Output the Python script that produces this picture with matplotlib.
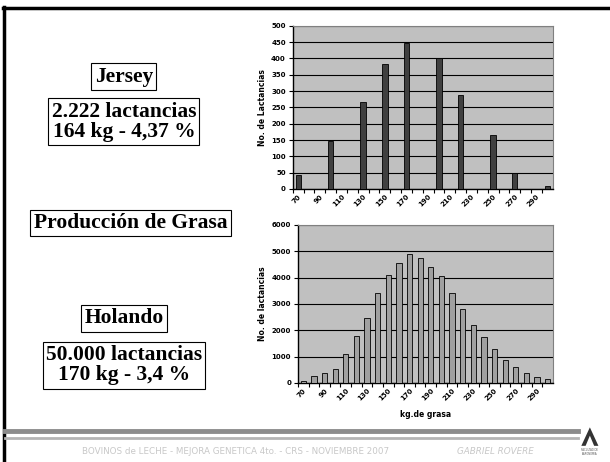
import numpy as np
import matplotlib.pyplot as plt
from matplotlib.patches import Polygon

# categories of kg de grasa (every 10 kg), labels shown every other one
kg = list(range(70, 310, 10))
kg_labels = [str(k) if i % 2 == 0 else "" for i, k in enumerate(kg)]

jersey = [43, 0, 0, 147, 0, 0, 266, 0, 383, 0, 448, 0,
          0, 403, 0, 287, 0, 0, 164, 0, 50, 0, 0, 10]
holando = [75, 265, 380, 530, 1090, 1785, 2470, 3405, 4100, 4560, 4900, 4760,
           4405, 4075, 3405, 2810, 2190, 1735, 1305, 860, 595, 390, 240, 165]

fig = plt.figure(figsize=(6.1, 4.62), dpi=100)


def bar_chart(ax, vals, color, ymax, step, ylabel):
    x = np.arange(len(kg))
    ax.set_facecolor("#c0c0c0")
    ax.bar(x + 0.5, vals, width=0.5, color=color, edgecolor="black", linewidth=0.6, zorder=3)
    ax.set_xlim(0, len(kg))
    ax.set_ylim(0, ymax)
    ax.set_yticks(np.arange(0, ymax + 1, step))
    ax.yaxis.grid(True, color="black", linewidth=0.8, zorder=1)
    ax.set_xticks(x, minor=False)
    ax.set_xticks(x + 0.5, minor=True)
    ax.set_xticklabels([])
    ax.set_xticklabels(kg_labels, minor=True, rotation=45, ha="right", va="top",
                       fontsize=5, fontweight="bold", rotation_mode="anchor")
    ax.tick_params(axis="x", which="minor", length=0, pad=3)
    ax.tick_params(axis="x", which="major", length=3, width=0.8, direction="out")
    ax.tick_params(axis="y", length=3, width=0.8, labelsize=5, pad=2)
    for t in ax.get_yticklabels():
        t.set_fontweight("bold")
    ax.set_ylabel(ylabel, fontsize=5.5, fontweight="bold", labelpad=3)
    for s in ["top", "right"]:
        ax.spines[s].set_color("#808080")
    ax.spines["left"].set_linewidth(1.0)
    ax.spines["bottom"].set_linewidth(1.0)


ax1 = fig.add_axes([0.480, 0.591, 0.426, 0.353])
bar_chart(ax1, jersey, "#404040", 500, 50, "No. de Lactancias")

ax2 = fig.add_axes([0.4885, 0.171, 0.418, 0.342])
bar_chart(ax2, holando, "#a0a0a0", 6000, 1000, "No. de lactancias")
ax2.set_xlabel("kg.de grasa", fontsize=5.5, fontweight="bold", labelpad=6)

# slide decoration
fig.add_artist(plt.Line2D([0.005, 1.0], [0.983, 0.983], color="black", lw=2.5))
fig.add_artist(plt.Line2D([0.007, 0.007], [0.0, 0.985], color="black", lw=2.5))
fig.add_artist(plt.Line2D([0.009, 0.948], [0.068, 0.068], color="#8c8c8c", lw=3.5))
fig.add_artist(plt.Line2D([0.009, 0.948], [0.052, 0.052], color="#b4b4b4", lw=2.0))

box = dict(boxstyle="square,pad=0.15", facecolor="white", edgecolor="black", linewidth=0.8)
serif = ["Liberation Serif", "DejaVu Serif"]
fs = 15.5
fig.text(0.203, 0.834, "Jersey", ha="center", va="center", fontsize=fs,
         fontweight="bold", family=serif, bbox=box)
fig.text(0.203, 0.737, "2.222 lactancias\n164 kg - 4,37 %", ha="center", va="center",
         fontsize=fs, fontweight="bold", family=serif, bbox=box, linespacing=1.0)
fig.text(0.214, 0.517, "Producción de Grasa", ha="center", va="center", fontsize=fs,
         fontweight="bold", family=serif, bbox=box)
fig.text(0.203, 0.311, "Holando", ha="center", va="center", fontsize=fs,
         fontweight="bold", family=serif, bbox=box)
fig.text(0.203, 0.209, "50.000 lactancias\n170 kg - 3,4 %", ha="center", va="center",
         fontsize=fs, fontweight="bold", family=serif, bbox=box, linespacing=1.0)

fig.text(0.386, 0.023, "BOVINOS de LECHE - MEJORA GENETICA 4to. - CRS - NOVIEMBRE 2007",
         ha="center", va="center", fontsize=6.3, color="#c8c8c8")
fig.text(0.812, 0.023, "GABRIEL ROVERE", ha="center", va="center", fontsize=6.3,
         color="#c8c8c8", style="italic")

# small faculty logo
logo = Polygon([[0.953, 0.035], [0.967, 0.075], [0.981, 0.035], [0.974, 0.035],
                [0.967, 0.057], [0.960, 0.035]], closed=True, transform=fig.transFigure,
               facecolor="#333333", edgecolor="none")
fig.add_artist(logo)
fig.text(0.967, 0.022, "FACULTAD DE\nAGRONOMIA", ha="center", va="center", fontsize=1.8,
         color="#555555", linespacing=1.2)

fig.savefig("out.png", dpi=100)
